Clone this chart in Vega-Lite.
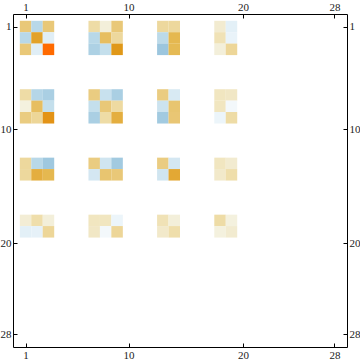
{
  "$schema": "https://vega.github.io/schema/vega-lite/v6.json",
  "width": 334,
  "height": 333,
  "padding": {"left": 13, "top": 14, "right": 13, "bottom": 16},
  "autosize": {"type": "none"},
  "background": "#ffffff",
  "config": {
    "view": {"stroke": "#000000", "strokeWidth": 1},
    "axis": {
      "domain": false,
      "grid": false,
      "title": null,
      "tickSize": -4,
      "tickColor": "#000000",
      "tickWidth": 1,
      "labelFont": "Liberation Serif",
      "labelFontSize": 11,
      "labelColor": "#222222",
      "labelPadding": 6,
      "labelFlush": false
    }
  },
  "data": {
    "values": [
      {"row": 1, "col": 1, "value": 3}, {"row": 1, "col": 2, "value": -2}, {"row": 1, "col": 3, "value": 3},
      {"row": 2, "col": 1, "value": -2}, {"row": 2, "col": 2, "value": 4.7}, {"row": 2, "col": 3, "value": -1},
      {"row": 3, "col": 1, "value": 3}, {"row": 3, "col": 2, "value": -1}, {"row": 3, "col": 3, "value": 6},
      {"row": 1, "col": 7, "value": 2}, {"row": 1, "col": 8, "value": 1}, {"row": 1, "col": 9, "value": 3},
      {"row": 2, "col": 7, "value": -2}, {"row": 2, "col": 8, "value": 3.6}, {"row": 2, "col": 9, "value": 2.2},
      {"row": 3, "col": 7, "value": -2.4}, {"row": 3, "col": 8, "value": -1.7}, {"row": 3, "col": 9, "value": 5},
      {"row": 1, "col": 13, "value": 2.2}, {"row": 1, "col": 14, "value": 2.2},
      {"row": 2, "col": 13, "value": -1.9}, {"row": 2, "col": 14, "value": 4},
      {"row": 3, "col": 13, "value": -3}, {"row": 3, "col": 14, "value": 3.9},
      {"row": 1, "col": 18, "value": 1.2}, {"row": 1, "col": 19, "value": -0.9},
      {"row": 2, "col": 18, "value": 1.7}, {"row": 2, "col": 19, "value": -0.7},
      {"row": 3, "col": 18, "value": 1}, {"row": 3, "col": 19, "value": 2.3},
      {"row": 7, "col": 1, "value": 2}, {"row": 7, "col": 2, "value": -2.1}, {"row": 7, "col": 3, "value": -2.5},
      {"row": 8, "col": 1, "value": 0.9}, {"row": 8, "col": 2, "value": 3.6}, {"row": 8, "col": 3, "value": -1.7},
      {"row": 9, "col": 1, "value": 2.8}, {"row": 9, "col": 2, "value": 2.3}, {"row": 9, "col": 3, "value": 5.1},
      {"row": 7, "col": 7, "value": 2.8}, {"row": 7, "col": 8, "value": -1.6}, {"row": 7, "col": 9, "value": -2.5},
      {"row": 8, "col": 7, "value": -1.7}, {"row": 8, "col": 8, "value": 3}, {"row": 8, "col": 9, "value": 2.1},
      {"row": 9, "col": 7, "value": -2.5}, {"row": 9, "col": 8, "value": 2}, {"row": 9, "col": 9, "value": 4.3},
      {"row": 7, "col": 13, "value": 2.8}, {"row": 7, "col": 14, "value": -1.2},
      {"row": 8, "col": 13, "value": -1.5}, {"row": 8, "col": 14, "value": 3.2},
      {"row": 9, "col": 13, "value": -2.8}, {"row": 9, "col": 14, "value": 3.1},
      {"row": 7, "col": 18, "value": 1.5}, {"row": 7, "col": 19, "value": 1.4},
      {"row": 8, "col": 18, "value": 1.5}, {"row": 8, "col": 19, "value": -0.4},
      {"row": 9, "col": 18, "value": -0.6}, {"row": 9, "col": 19, "value": 2},
      {"row": 13, "col": 1, "value": 2.2}, {"row": 13, "col": 2, "value": -2}, {"row": 13, "col": 3, "value": -2.9},
      {"row": 14, "col": 1, "value": 2.2}, {"row": 14, "col": 2, "value": 4.3}, {"row": 14, "col": 3, "value": 4},
      {"row": 13, "col": 7, "value": 2.8}, {"row": 13, "col": 8, "value": -1.4}, {"row": 13, "col": 9, "value": -2.8},
      {"row": 14, "col": 7, "value": -1.3}, {"row": 14, "col": 8, "value": 3.2}, {"row": 14, "col": 9, "value": 3},
      {"row": 13, "col": 13, "value": 2.8}, {"row": 13, "col": 14, "value": -1.3},
      {"row": 14, "col": 13, "value": -1.4}, {"row": 14, "col": 14, "value": 4.5},
      {"row": 13, "col": 18, "value": 1.5}, {"row": 13, "col": 19, "value": 1.2},
      {"row": 14, "col": 18, "value": 1.3}, {"row": 14, "col": 19, "value": 1.9},
      {"row": 18, "col": 1, "value": 1.1}, {"row": 18, "col": 2, "value": 1.9}, {"row": 18, "col": 3, "value": 1},
      {"row": 19, "col": 1, "value": -0.9}, {"row": 19, "col": 2, "value": -0.8}, {"row": 19, "col": 3, "value": 2.3},
      {"row": 18, "col": 7, "value": 1.5}, {"row": 18, "col": 8, "value": 1.5}, {"row": 18, "col": 9, "value": -0.6},
      {"row": 19, "col": 7, "value": 1.4}, {"row": 19, "col": 8, "value": -0.4}, {"row": 19, "col": 9, "value": 2.3},
      {"row": 18, "col": 13, "value": 1.7}, {"row": 18, "col": 14, "value": 1},
      {"row": 19, "col": 13, "value": 1.3}, {"row": 19, "col": 14, "value": 1.9},
      {"row": 18, "col": 18, "value": 2}, {"row": 18, "col": 19, "value": 0.9},
      {"row": 19, "col": 18, "value": 0.9}, {"row": 19, "col": 19, "value": 1.2}
    ]
  },
  "layer": [
    {
      "mark": {"type": "rect", "width": 11.5, "height": 11.5, "strokeWidth": 0},
      "encoding": {
        "x": {
          "field": "col", "type": "quantitative",
          "scale": {"domain": [-0.1, 29.1], "nice": false, "zero": false},
          "axis": {"orient": "bottom", "values": [1, 10, 20, 28]}
        },
        "y": {
          "field": "row", "type": "quantitative",
          "scale": {"domain": [-0.1, 29.1], "nice": false, "zero": false, "reverse": true},
          "axis": {"orient": "left", "values": [1, 10, 20, 28]}
        },
        "color": {
          "field": "value", "type": "quantitative",
          "scale": {
            "type": "linear",
            "domain": [-3, -2, -1, 0, 1, 2, 3, 4, 5, 6],
            "range": ["#9cc6de", "#b8d8e8", "#e0eef6", "#ffffff", "#f3efda", "#eedca6", "#e9c878", "#e5b850", "#e09818", "#ff6a00"],
            "interpolate": "rgb"
          },
          "legend": null
        }
      }
    },
    {
      "mark": {"type": "point", "opacity": 0},
      "encoding": {
        "x": {"field": "col", "type": "quantitative", "axis": {"orient": "top", "values": [1, 10, 20, 28]}},
        "y": {"field": "row", "type": "quantitative", "axis": {"orient": "right", "values": [1, 10, 20, 28]}}
      }
    }
  ],
  "resolve": {"axis": {"x": "independent", "y": "independent"}}
}
